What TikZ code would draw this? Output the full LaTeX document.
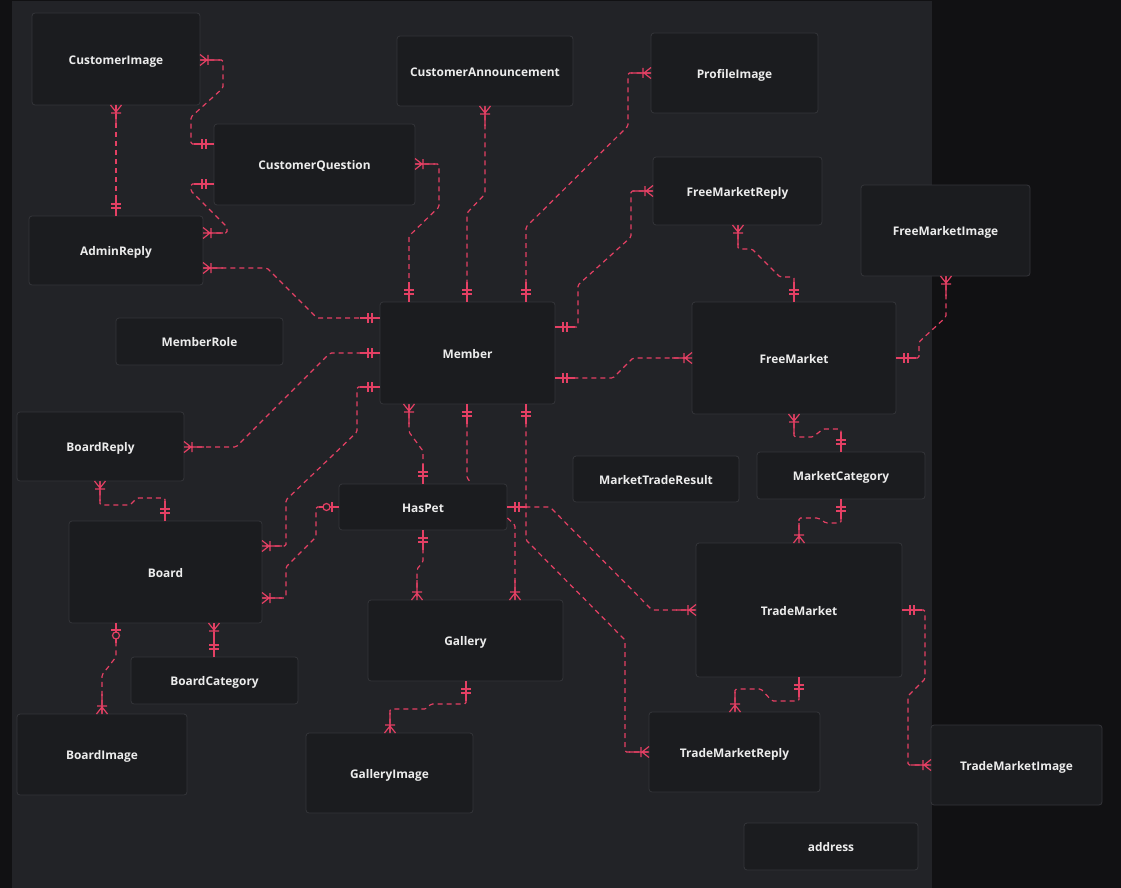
\documentclass[tikz,border=0pt]{standalone}
\usepackage{fontspec}
\setmainfont{Open Sans}
\definecolor{outerbg}{RGB}{17,17,19}
\definecolor{panelbg}{RGB}{34,35,39}
\definecolor{nodefill}{RGB}{27,28,31}
\definecolor{nodeborder}{RGB}{52,53,58}
\definecolor{lc}{RGB}{228,64,100}
\definecolor{txt}{RGB}{236,236,236}
\tikzset{
  ent/.style={draw=nodeborder, fill=nodefill, rounded corners=3pt, text=txt,
    font=\bfseries\fontsize{11.9}{14}\selectfont, inner sep=0pt, line width=0.8pt,
    text height=10.5pt, text depth=0pt},
  rel/.style={draw=lc, line width=1.2pt, dash pattern=on 5pt off 4pt, rounded corners=1.5pt},
  relsolid/.style={draw=lc, line width=1.2pt, solid},
  pics/erone/.style={code={\draw[relsolid] (0,0)--(20,0) (8,-5)--(8,5) (12,-5)--(12,5);}},
  pics/ermany/.style={code={\draw[relsolid] (0,0)--(20,0) (0,-5.5)--(7,0)--(0,5.5) (8,-5)--(8,5);}},
  pics/erzero/.style={code={\draw[relsolid] (0,0)--(20,0) (7,-5)--(7,5); \draw[relsolid, fill=panelbg] (12.5,0) circle (3.5);}},
}
\newcommand\erent[6]{\node[ent, minimum width=#4pt, minimum height=#5pt] (#1) at (#2,#3) {#6};}
\begin{document}
\begin{tikzpicture}[x=1pt,y=-1pt]
\fill[outerbg] (0,0) rectangle (1121,888);
\fill[panelbg] (12,1) rectangle (932,888);
\useasboundingbox (0,0) rectangle (1121,888);
% entities
\erent{CI}{116}{59}{168}{92}{CustomerImage}
\erent{CQ}{314.5}{164.5}{201}{81}{CustomerQuestion}
\erent{AR}{116}{250.5}{174}{69}{AdminReply}
\erent{CA}{485}{71}{176}{70}{CustomerAnnouncement}
\erent{PI}{734.5}{73}{167}{80}{ProfileImage}
\erent{FMR}{737.5}{191}{169}{68}{FreeMarketReply}
\erent{FMI}{945.5}{230.5}{169}{91}{FreeMarketImage}
\erent{Mem}{467.5}{353}{175}{102}{Member}
\erent{MR}{199.5}{341.5}{167}{47}{MemberRole}
\erent{FM}{794}{358}{204}{112}{FreeMarket}
\erent{BR}{100.5}{446.5}{167}{69}{BoardReply}
\erent{Bd}{165.5}{572}{193}{102}{Board}
\erent{BC}{214.5}{680.5}{167}{47}{BoardCategory}
\erent{BI}{102}{754.5}{170}{81}{BoardImage}
\erent{HP}{423}{507}{168}{46}{HasPet}
\erent{Gal}{465.5}{640.5}{195}{81}{Gallery}
\erent{GI}{389.5}{773}{167}{80}{GalleryImage}
\erent{MTR}{656}{479}{166}{46}{MarketTradeResult}
\erent{MC}{841}{475.5}{168}{47}{MarketCategory}
\erent{TM}{799}{610}{206}{134}{TradeMarket}
\erent{TMR}{734.5}{752}{171}{80}{TradeMarketReply}
\erent{TMI}{1016.5}{765}{171}{80}{TradeMarketImage}
\erent{addr}{831}{846.5}{174}{47}{address}
% connectors
\draw[rel] (CI.east |- 0,60) -- (223,60) -- (223,88) -- (191,117) -- (191,144) -- (CQ.west |- 0,144);
\pic[rotate=0] at (200,60) {ermany}; \pic[rotate=180] at (214,144) {erone};
\draw[rel] (CI.south) -- (AR.north);
\pic[rotate=-90] at (116,105) {ermany}; \pic[rotate=90] at (116,216) {erone};
\draw[rel] (CQ.west |- 0,184) -- (191,184) -- (191,191) -- (227,227) -- (227,233) -- (AR.east |- 0,233);
\pic[rotate=180] at (214,184) {erone}; \pic[rotate=0] at (203,233) {ermany};
\draw[rel] (AR.east |- 0,268) -- (267,268) -- (317,318) -- (Mem.west |- 0,318);
\pic[rotate=0] at (203,268) {ermany}; \pic[rotate=180] at (380,318) {erone};
\draw[rel] (CQ.east |- 0,164) -- (439,164) -- (439,207) -- (409,236) -- (Mem.north -| 409,0);
\pic[rotate=0] at (415,164) {ermany}; \pic[rotate=90] at (409,302) {erone};
\draw[rel] (CA.south) -- (485,194) -- (467,213) -- (Mem.north -| 467,0);
\pic[rotate=-90] at (485,106) {ermany}; \pic[rotate=90] at (467,302) {erone};
\draw[rel] (PI.west) -- (628,73) -- (628,126) -- (526,227) -- (Mem.north -| 526,0);
\pic[rotate=180] at (651,73) {ermany}; \pic[rotate=90] at (526,302) {erone};
\draw[rel] (FMR.west) -- (631,191) -- (631,237) -- (578,285) -- (578,327) -- (Mem.east |- 0,327);
\pic[rotate=180] at (653,191) {ermany}; \pic[rotate=0] at (555,327) {erone};
\draw[rel] (Mem.east |- 0,378) -- (613,378) -- (633,358) -- (FM.west);
\pic[rotate=0] at (555,378) {erone}; \pic[rotate=180] at (692,358) {ermany};
\draw[rel] (FMR.south -| 738,0) -- (738,249) -- (752,249) -- (780,277) -- (794,277) -- (FM.north);
\pic[rotate=-90] at (738,225) {ermany}; \pic[rotate=90] at (794,302) {erone};
\draw[rel] (FMI.south -| 946,0) -- (946,317) -- (919,342) -- (919,358) -- (FM.east);
\pic[rotate=-90] at (946,276) {ermany}; \pic[rotate=0] at (896,358) {erone};
\draw[rel] (FM.south) -- (794,437) -- (813,437) -- (823,429) -- (841,429) -- (MC.north);
\pic[rotate=-90] at (794,414) {ermany}; \pic[rotate=90] at (841,452) {erone};
\draw[rel] (MC.south) -- (841,523) -- (826,523) -- (818,518) -- (799,518) -- (TM.north);
\pic[rotate=-90] at (841,499) {erone}; \pic[rotate=90] at (799,543) {ermany};
\draw[rel] (TM.south) -- (799,701) -- (772,701) -- (761,689) -- (735,689) -- (TMR.north -| 735,0);
\pic[rotate=-90] at (799,677) {erone}; \pic[rotate=90] at (735,712) {ermany};
\draw[rel] (TM.east) -- (925,610) -- (925,679) -- (908,696) -- (908,765) -- (TMI.west);
\pic[rotate=0] at (902,610) {erone}; \pic[rotate=180] at (931,765) {ermany};
\draw[rel] (Mem.south -| 409,0) -- (409,432) -- (423,451) -- (HP.north);
\pic[rotate=-90] at (409,404) {ermany}; \pic[rotate=90] at (423,484) {erone};
\draw[rel] (Mem.south -| 467,0) -- (467,478) -- (HP.north -| 472,0);
\pic[rotate=-90] at (467,404) {erone};
\draw[rel] (Mem.south -| 526,0) -- (526,540) -- (625,640) -- (625,752) -- (TMR.west);
\pic[rotate=-90] at (526,404) {erone}; \pic[rotate=180] at (649,752) {ermany};
\draw[rel] (HP.east) -- (550,507) -- (652,610) -- (TM.west);
\pic[rotate=0] at (507,507) {erone}; \pic[rotate=180] at (696,610) {ermany};
\draw[rel] (HP.east |- 0,518) -- (515,525) -- (Gal.north -| 515,0);
\pic[rotate=90] at (515,600) {ermany};
\draw[rel] (HP.south) -- (423,562) -- (417,569) -- (Gal.north -| 417,0);
\pic[rotate=-90] at (423,530) {erone}; \pic[rotate=90] at (417,600) {ermany};
\draw[rel] (Gal.south -| 466,0) -- (466,704) -- (431,704) -- (426,709) -- (390,709) -- (GI.north -| 390,0);
\pic[rotate=-90] at (466,681) {erone}; \pic[rotate=90] at (390,733) {ermany};
\draw[rel] (Mem.west) -- (330,353) -- (236,447) -- (BR.east |- 0,447);
\pic[rotate=180] at (380,353) {erone}; \pic[rotate=0] at (184,447) {ermany};
\draw[rel] (Mem.west |- 0,387) -- (357,387) -- (357,432) -- (286,500) -- (286,546) -- (Bd.east |- 0,546);
\pic[rotate=180] at (380,387) {erone}; \pic[rotate=0] at (262,546) {ermany};
\draw[rel] (HP.west) -- (316,507) -- (316,537) -- (286,567) -- (286,598) -- (Bd.east |- 0,598);
\pic[rotate=180] at (339,507) {erzero}; \pic[rotate=0] at (262,598) {ermany};
\draw[rel] (BR.south -| 100,0) -- (100,505) -- (130,505) -- (137,498) -- (165,498) -- (Bd.north -| 165,0);
\pic[rotate=-90] at (100,481) {ermany}; \pic[rotate=90] at (165,521) {erone};
\draw[rel] (Bd.south -| 214,0) -- (BC.north -| 214,0);
\pic[rotate=-90] at (214,623) {ermany}; \pic[rotate=90] at (214,657) {erone};
\draw[rel] (Bd.south -| 116,0) -- (116,657) -- (102,675) -- (BI.north);
\pic[rotate=-90] at (116,623) {erzero}; \pic[rotate=90] at (102,714) {ermany};
\end{tikzpicture}
\end{document}
